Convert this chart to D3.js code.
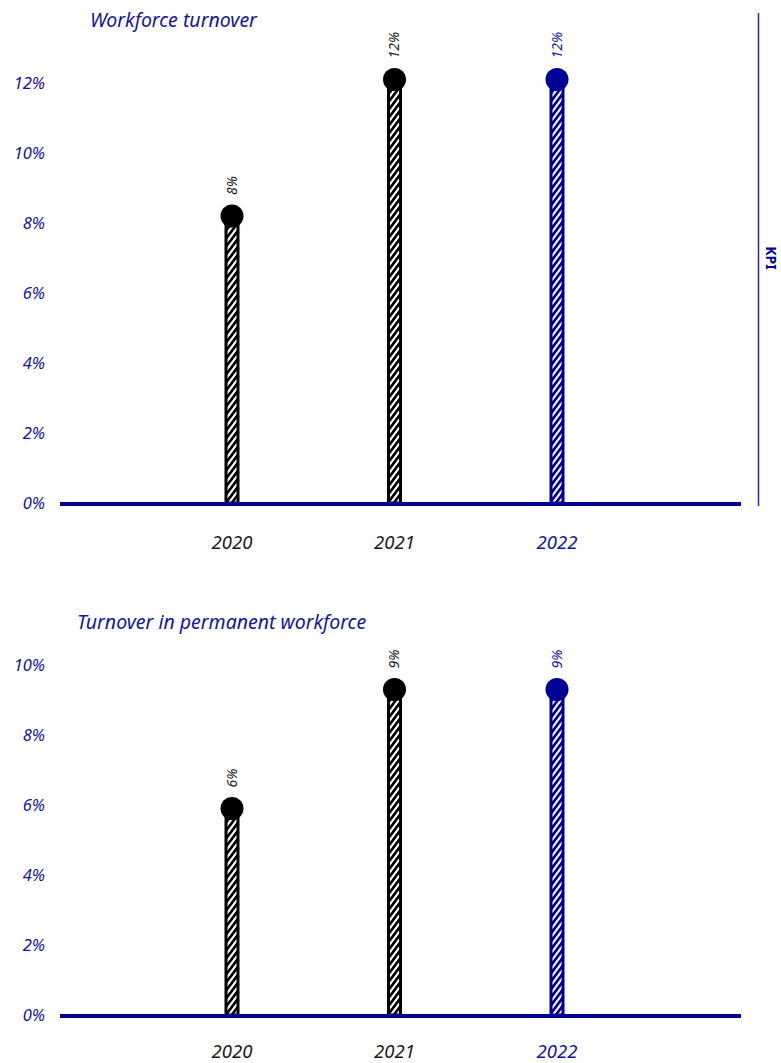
<!DOCTYPE html>
<html>
<head>
<meta charset="utf-8">
<script src="https://cdn.jsdelivr.net/npm/d3@7"></script>
<style>
  html, body { margin: 0; padding: 0; background: #fff; overflow: hidden; }
  svg { display: block; font-family: "Noto Sans", "DejaVu Sans", sans-serif; }
</style>
</head>
<body>
<svg id="chart" width="781" height="1063"></svg>
<script>
// Reporting years
const years = ["2020", "2021", "2022"];

// Workforce turnover, percent
const turnoverTotal = [8.2, 12.1, 12.1];
// Turnover in permanent workforce, percent
const turnoverPermanent = [5.9, 9.3, 9.3];

// Axis tick values, percent
const ticksTotal = [0, 2, 4, 6, 8, 10, 12];
const ticksPermanent = [0, 2, 4, 6, 8, 10];

const titles = ["Workforce turnover", "Turnover in permanent workforce"];
const sideLabel = "KPI";

const NAVY = "#000096";
const TEXT_BLUE = "#14149e";
const INK = "#000000";
const colorFor = yr => yr === "2022" ? NAVY : INK;
const yearTextColor = yr => yr === "2022" ? TEXT_BLUE : "#1a1a1a";

const svg = d3.select("#chart");
const defs = svg.append("defs");

// Striped fill for the stems: solid ground with white diagonals
function stripePattern(id, ground) {
  const p = defs.append("pattern")
    .attr("id", id)
    .attr("patternUnits", "userSpaceOnUse")
    .attr("width", 6).attr("height", 8);
  p.append("rect").attr("width", 6).attr("height", 8).attr("fill", ground);
  p.append("path")
    .attr("d", "M-1.5,10 L7.5,-2 M-7.5,10 L1.5,-2 M4.5,10 L13.5,-2")
    .attr("stroke", "#fff").attr("stroke-width", 2.1);
}
stripePattern("stripe-ink", INK);
stripePattern("stripe-navy", NAVY);

const x = d3.scalePoint().domain(years).range([232, 557]);

function drawPanel(cfg) {
  const g = svg.append("g");
  const y = d3.scaleLinear().domain(cfg.domain).range(cfg.range);

  // title
  g.append("text")
    .attr("x", cfg.titleX).attr("y", cfg.titleY)
    .attr("fill", TEXT_BLUE)
    .attr("font-size", 19.5).attr("font-style", "italic")
    .text(cfg.title);

  // y tick labels
  g.selectAll(".ytick").data(cfg.ticks).join("text")
    .attr("class", "ytick")
    .attr("x", 45).attr("y", d => y(d))
    .attr("dy", "0.35em")
    .attr("text-anchor", "end")
    .attr("fill", TEXT_BLUE)
    .attr("font-size", 16.5).attr("font-style", "italic")
    .text(d => d + "%");

  const data = years.map((yr, i) => ({ year: yr, value: cfg.values[i] }));

  // stems
  g.selectAll(".stem").data(data).join("rect")
    .attr("class", "stem")
    .attr("x", d => x(d.year) - 6)
    .attr("width", 12)
    .attr("y", d => y(d.value))
    .attr("height", d => y(0) - y(d.value))
    .attr("fill", d => d.year === "2022" ? "url(#stripe-navy)" : "url(#stripe-ink)")
    .attr("stroke", d => colorFor(d.year))
    .attr("stroke-width", 3);

  // value dots
  g.selectAll(".dot").data(data).join("circle")
    .attr("class", "dot")
    .attr("cx", d => x(d.year))
    .attr("cy", d => y(d.value))
    .attr("r", 11.5)
    .attr("fill", d => colorFor(d.year));

  // value labels, rotated above the dots
  g.selectAll(".vlabel").data(data).join("text")
    .attr("class", "vlabel")
    .attr("transform", d => `translate(${x(d.year)},${y(d.value) - 21}) rotate(-90)`)
    .attr("dy", "0.35em")
    .attr("text-anchor", "start")
    .attr("fill", d => d.year === "2022" ? TEXT_BLUE : "#1a1a1a")
    .attr("font-size", 14).attr("font-style", "italic")
    .text(d => d3.format(".0f")(d.value) + "%");

  // baseline
  g.append("line")
    .attr("x1", 60).attr("x2", 741)
    .attr("y1", y(0) + 1).attr("y2", y(0) + 1)
    .attr("stroke", NAVY).attr("stroke-width", 4);

  // year labels
  g.selectAll(".xlabel").data(years).join("text")
    .attr("class", "xlabel")
    .attr("x", d => x(d)).attr("y", cfg.yearY)
    .attr("text-anchor", "middle")
    .attr("fill", d => yearTextColor(d))
    .attr("font-size", 18.5).attr("font-style", "italic")
    .text(d => d);
}

drawPanel({
  title: titles[0], titleX: 90, titleY: 27,
  values: turnoverTotal, ticks: ticksTotal,
  domain: [0, 12], range: [503, 83],
  yearY: 549
});

drawPanel({
  title: titles[1], titleX: 77, titleY: 629,
  values: turnoverPermanent, ticks: ticksPermanent,
  domain: [0, 10], range: [1015, 665],
  yearY: 1058
});

// side divider and section tag
svg.append("line")
  .attr("x1", 758.5).attr("x2", 758.5)
  .attr("y1", 13).attr("y2", 506)
  .attr("stroke", "#2a2ab4").attr("stroke-width", 1.5);

svg.append("text")
  .attr("transform", "translate(766,258) rotate(90)")
  .attr("text-anchor", "middle")
  .attr("fill", NAVY)
  .attr("font-size", 14).attr("font-weight", "bold")
  .text(sideLabel);
</script>
</body>
</html>
